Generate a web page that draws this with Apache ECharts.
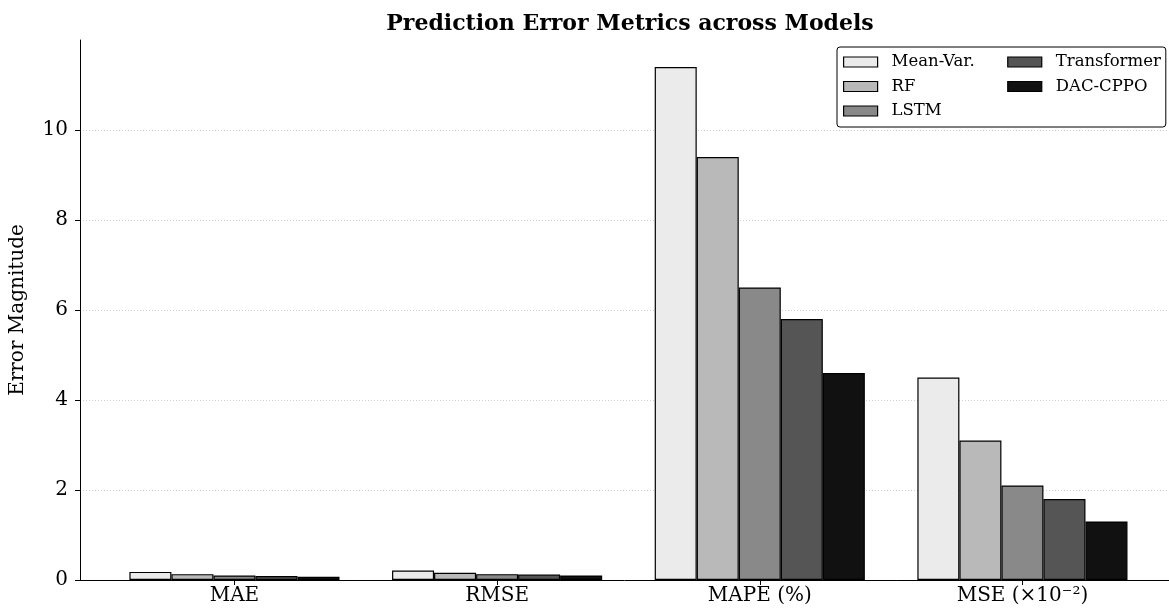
<!DOCTYPE html>
<html>
<head>
<meta charset="utf-8">
<script src="https://cdn.jsdelivr.net/npm/echarts@6/dist/echarts.min.js"></script>
<style>html,body{margin:0;padding:0;background:#fff}#c{width:1169px;height:613px}</style>
</head>
<body>
<div id="c"></div>
<script>
const categories = ['MAE', 'RMSE', 'MAPE (%)', 'MSE (×10⁻²)'];
const models = ['Mean-Var.', 'RF', 'LSTM', 'Transformer', 'DAC-CPPO'];
const meanVar = [0.18, 0.21, 11.4, 4.5];
const rf = [0.13, 0.16, 9.4, 3.1];
const lstm = [0.10, 0.13, 6.5, 2.1];
const transformer = [0.09, 0.12, 5.8, 1.8];
const dacCppo = [0.07, 0.10, 4.6, 1.3];
const yTicks = [0, 2, 4, 6, 8, 10];
const colors = ['#ebebeb', '#b9b9b9', '#898989', '#555555', '#111111'];

const seriesValues = [meanVar, rf, lstm, transformer, dacCppo];
const font = 'DejaVu Serif';
const catIdx = categories.map((c, i) => i);

const chart = echarts.init(document.getElementById('c'), null, {renderer: 'canvas'});
chart.setOption({
  animation: false,
  backgroundColor: '#fff',
  title: {
    text: 'Prediction Error Metrics across Models',
    left: 625, top: 8, textAlign: 'center',
    textStyle: {fontFamily: font, fontWeight: 'bold', fontSize: 22, color: '#000'}
  },
  legend: {
    data: models.map((m, k) => ({
      name: m,
      textStyle: k < 3 ? {padding: [0, 28, 0, 9]} : {padding: [0, 0, 0, 9]}
    })),
    orient: 'vertical',
    left: 837, top: 47, height: 76,
    itemWidth: 34, itemHeight: 10, itemGap: 4.5,
    padding: [5, 5, 6, 6],
    backgroundColor: '#fff',
    borderColor: '#000', borderWidth: 1, borderRadius: 3,
    textStyle: {fontFamily: font, fontSize: 16.5, color: '#000', lineHeight: 20},
    itemStyle: {borderColor: '#000', borderWidth: 1.2},
    icon: 'rect'
  },
  grid: {left: 80, right: 0, top: 40, bottom: 33, containLabel: false},
  xAxis: {
    type: 'value',
    min: -0.588, max: 3.558,
    axisLine: {show: true, lineStyle: {color: '#000', width: 1}},
    axisTick: {show: true, customValues: catIdx, length: 5, lineStyle: {color: '#000'}},
    axisLabel: {
      customValues: catIdx,
      formatter: v => categories[Math.round(v)],
      fontFamily: font, fontSize: 20, color: '#000', margin: 6
    },
    splitLine: {show: false}
  },
  yAxis: {
    type: 'value',
    min: 0, max: 12, interval: 2,
    name: 'Error Magnitude',
    nameLocation: 'middle', nameGap: 52, nameRotate: 90,
    nameTextStyle: {fontFamily: font, fontSize: 20, color: '#000'},
    axisLine: {show: true, onZero: false, lineStyle: {color: '#000', width: 1}},
    axisTick: {show: true, length: 5, lineStyle: {color: '#000'}},
    axisLabel: {fontFamily: font, fontSize: 20, color: '#000', margin: 12, showMaxLabel: false},
    splitLine: {show: true, showMinLine: false, showMaxLine: false, lineStyle: {color: '#cfcfcf', type: [1, 2], width: 1}}
  },
  series: models.map((m, k) => ({
    name: m,
    type: 'bar',
    data: seriesValues[k].map((v, i) => [i, v]),
    barCategoryGap: '20%',
    barGap: '0%',
    itemStyle: {color: colors[k], borderColor: '#000', borderWidth: 1.2}
  }))
});
</script>
</body>
</html>
